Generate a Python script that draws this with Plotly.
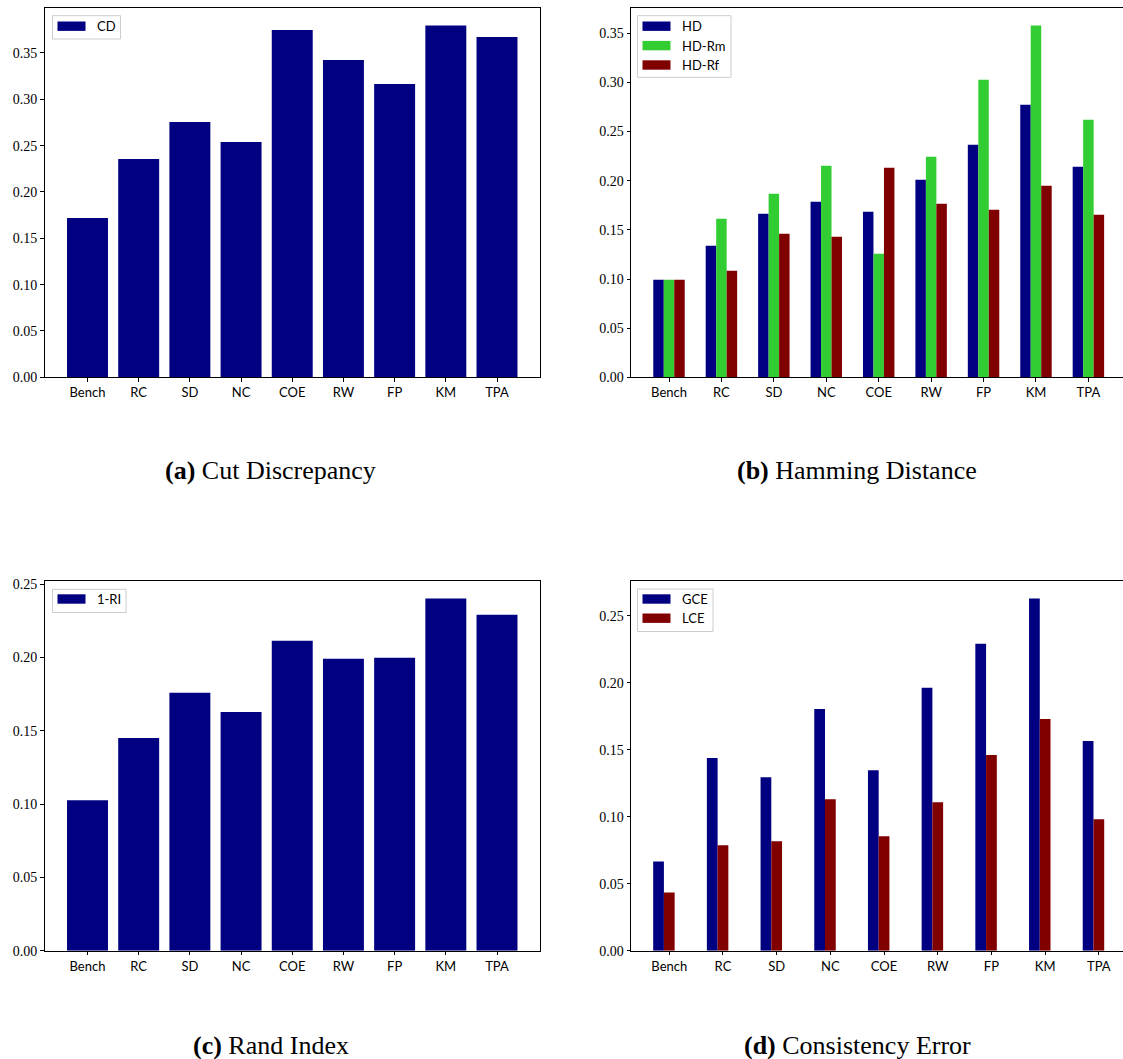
import plotly.graph_objects as go

# ---- data -------------------------------------------------------------
methods = ["Bench", "RC", "SD", "NC", "COE", "RW", "FP", "KM", "TPA"]

cd = [0.172, 0.2356, 0.2755, 0.254, 0.3748, 0.3424, 0.3165, 0.3795, 0.3673]

hd = [0.0993, 0.1337, 0.1663, 0.1785, 0.1684, 0.2010, 0.2366, 0.2773, 0.2142]
hd_rm = [0.0993, 0.1612, 0.1867, 0.2152, 0.1256, 0.2244, 0.3028, 0.3578, 0.2620]
hd_rf = [0.0993, 0.1083, 0.1460, 0.1429, 0.2132, 0.1765, 0.1704, 0.1948, 0.1653]

one_minus_ri = [0.1026, 0.1451, 0.1759, 0.1629, 0.2114, 0.1991, 0.1998, 0.2402, 0.2292]

gce = [0.0666, 0.1437, 0.1295, 0.1804, 0.1347, 0.1961, 0.2290, 0.2627, 0.1564]
lce = [0.0434, 0.0786, 0.0816, 0.1130, 0.0853, 0.1108, 0.1460, 0.1729, 0.0980]

captions = [("(a)", "Cut Discrepancy"), ("(b)", "Hamming Distance"),
            ("(c)", "Rand Index"), ("(d)", "Consistency Error")]

# ---- styling ----------------------------------------------------------
W, H = 1123, 1059
NAVY, GREEN, MAROON = "#000080", "#32CD32", "#800000"
TICK_SERIF = "Liberation Serif, serif"
SANS = "Lato, sans-serif"


def px(x):
    return x / W


def py(y):
    return 1 - y / H


xs = list(range(len(methods)))
fig = go.Figure()


def add_bars(values, color, name, axis, offset, width):
    fig.add_trace(go.Bar(
        x=xs, y=values, name=name, marker=dict(color=color, line=dict(width=0)),
        offset=offset, width=width, xaxis="x" + axis, yaxis="y" + axis,
        showlegend=False, hoverinfo="x+y",
    ))


# (a) cut discrepancy
add_bars(cd, NAVY, "CD", "", -0.4, 0.8)
# (b) hamming distance, three grouped series
add_bars(hd, NAVY, "HD", "2", -0.3, 0.2)
add_bars(hd_rm, GREEN, "HD-Rm", "2", -0.1, 0.2)
add_bars(hd_rf, MAROON, "HD-Rf", "2", 0.1, 0.2)
# (c) rand index
add_bars(one_minus_ri, NAVY, "1-RI", "3", -0.4, 0.8)
# (d) consistency error
add_bars(gce, NAVY, "GCE", "4", -0.3, 0.2)
add_bars(lce, MAROON, "LCE", "4", -0.1, 0.2)


def xaxis_cfg(domain, rng, anchor):
    return dict(
        domain=domain, range=rng, anchor=anchor, automargin=False,
        tickmode="array", tickvals=xs, ticktext=methods,
        showline=True, linecolor="black", linewidth=1, mirror=True,
        ticks="outside", ticklen=3.5, tickwidth=0.8, tickcolor="black",
        showgrid=False, zeroline=False,
        tickfont=dict(family=SANS, size=13, color="black"),
    )


def yaxis_cfg(domain, vmax, dtick_top, anchor, mirror):
    vals = [round(i * 0.05, 2) for i in range(int(round(dtick_top / 0.05)) + 1)]
    return dict(
        domain=domain, range=[0, vmax * 1.05], anchor=anchor, automargin=False,
        tickmode="array", tickvals=vals, ticktext=["%.2f" % v for v in vals],
        showline=True, linecolor="black", linewidth=1, mirror=mirror,
        ticks="outside", ticklen=3.5, tickwidth=0.8, tickcolor="black",
        showgrid=False, zeroline=False,
        tickfont=dict(family=TICK_SERIF, size=14, color="black"),
    )


top_row = [py(377.3), py(8)]
bot_row = [py(950.7), py(581)]
left_col = [px(44.5), px(540)]
right_col = [px(631), 1.0]

fig.update_layout(
    xaxis=xaxis_cfg(left_col, [-0.84, 8.84], "y"),
    yaxis=yaxis_cfg(top_row, max(cd), 0.35, "x", True),
    xaxis2=xaxis_cfg(right_col, [-0.725, 8.66], "y2"),
    yaxis2=yaxis_cfg(top_row, max(hd + hd_rm + hd_rf), 0.35, "x2", False),
    xaxis3=xaxis_cfg(left_col, [-0.84, 8.84], "y3"),
    yaxis3=yaxis_cfg(bot_row, max(one_minus_ri), 0.25, "x3", True),
    xaxis4=xaxis_cfg(right_col, [-0.713, 8.45], "y4"),
    yaxis4=yaxis_cfg(bot_row, max(gce + lce), 0.25, "x4", False),
)

# ---- legends (matplotlib-style boxes with wide patches) -----------------
shapes, annotations = [], []


def legend_box(x0, x1, y0, y1, entries, first_row_y, row_step, text_x):
    shapes.append(dict(type="rect", xref="paper", yref="paper",
                       x0=px(x0), x1=px(x1), y0=py(y1), y1=py(y0),
                       line=dict(color="#cccccc", width=1),
                       fillcolor="rgba(255,255,255,0.8)", layer="above"))
    for i, (label, color) in enumerate(entries):
        cy = first_row_y + i * row_step
        shapes.append(dict(type="rect", xref="paper", yref="paper",
                           x0=px(x0 + 5), x1=px(x0 + 33),
                           y0=py(cy + 4.7), y1=py(cy - 4.7),
                           line=dict(width=0), fillcolor=color, layer="above"))
        annotations.append(dict(text=label, xref="paper", yref="paper",
                                x=px(text_x), y=py(cy), xanchor="left",
                                yanchor="middle", showarrow=False,
                                font=dict(family=SANS, size=13, color="black")))


legend_box(52.5, 120.5, 15.7, 39, [("CD", NAVY)], 26.2, 19.4, 95)
legend_box(637.5, 731, 15.7, 77.3,
           [("HD", NAVY), ("HD-Rm", GREEN), ("HD-Rf", MAROON)], 26.2, 19.4, 680)
legend_box(52.5, 126, 589.3, 612.5, [("1-RI", NAVY)], 599, 19.4, 95)
legend_box(637.5, 713, 589, 631.5, [("GCE", NAVY), ("LCE", MAROON)], 599, 19.2, 680)

# ---- sub-figure captions -------------------------------------------------
cap_pos = [(270, 471), (857, 471), (271, 1045), (857, 1045)]
for (tag, title), (cx, cy) in zip(captions, cap_pos):
    annotations.append(dict(text="<b>%s</b> %s" % (tag, title), xref="paper",
                            yref="paper", x=px(cx), y=py(cy), xanchor="center",
                            yanchor="middle", showarrow=False,
                            font=dict(family="Liberation Serif, serif", size=26,
                                      color="black")))

fig.update_layout(
    width=W, height=H, margin=dict(l=0, r=0, t=0, b=0, pad=0),
    autosize=False,
    paper_bgcolor="white", plot_bgcolor="white",
    barmode="overlay", showlegend=False,
    shapes=shapes, annotations=annotations,
)

fig.write_html("out.html", config={"displayModeBar": False})
